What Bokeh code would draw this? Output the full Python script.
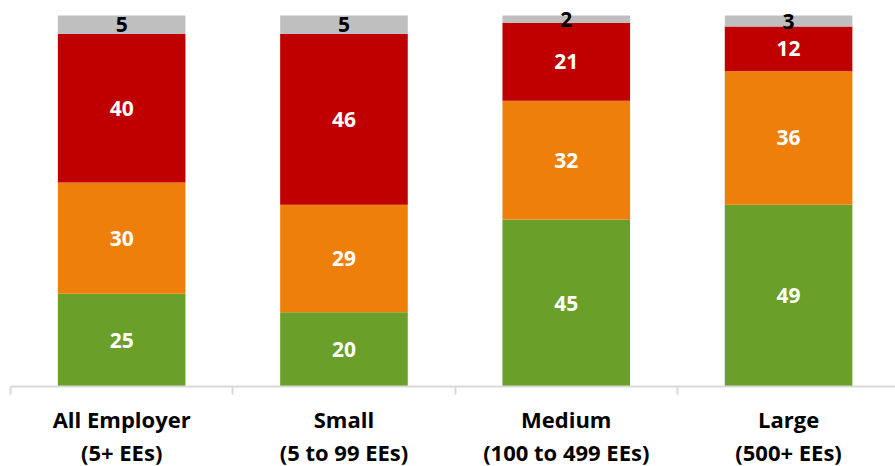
from bokeh.plotting import figure
from bokeh.models import ColumnDataSource, FixedTicker, Range1d, LabelSet, LinearAxis
from bokeh.embed import file_html
from bokeh.resources import INLINE
from bokeh.core.properties import value

cat_line1 = ["All Employer", "Small", "Medium", "Large"]
cat_line2 = ["(5+ EEs)", "(5 to 99 EEs)", "(100 to 499 EEs)", "(500+ EEs)"]
green = [25, 20, 45, 49]
orange = [30, 29, 32, 36]
red = [40, 46, 21, 12]
gray = [5, 5, 2, 3]

series = [("green", green, "#6A9F2A", "white"),
          ("orange", orange, "#EF7F0B", "white"),
          ("red", red, "#C00000", "white"),
          ("gray", gray, "#BFBFBF", "black")]

xs = [i + 0.5 for i in range(len(cat_line1))]

p = figure(frame_width=885, frame_height=382, output_backend="svg", toolbar_location=None,
           x_range=Range1d(0, 3.981), y_range=Range1d(0, 102.96),
           min_border_left=10, min_border_right=0, min_border_top=4, min_border_bottom=0)
p.outline_line_color = None
p.grid.visible = False
p.yaxis.visible = False

bottom = [0] * len(cat_line1)
for name, vals, color, tcolor in series:
    top = [b + v for b, v in zip(bottom, vals)]
    mid = [(b + t) / 2 for b, t in zip(bottom, top)]
    src = ColumnDataSource(dict(x=xs, bottom=bottom, top=top, mid=mid, lab=[str(v) for v in vals]))
    p.vbar(x="x", width=0.574, bottom="bottom", top="top", source=src, fill_color=color, line_color=None)
    p.add_layout(LabelSet(x="x", y="mid", text="lab", source=src, text_align="center",
                          text_baseline="middle", text_color=tcolor, text_font=value("Open Sans"),
                          text_font_style="bold", text_font_size="21px"))
    bottom = top

ax = p.xaxis[0]
ax.ticker = FixedTicker(ticks=xs, minor_ticks=[0, 1, 2, 3, 4])
ax.major_label_overrides = {x: c for x, c in zip(xs, cat_line1)}
ax.major_tick_out = 0
ax.major_tick_in = 0
ax.minor_tick_out = 8
ax.minor_tick_in = 0
ax.minor_tick_line_color = "#D9D9D9"
ax.minor_tick_line_width = 2
ax.axis_line_color = "#D9D9D9"
ax.axis_line_width = 2
ax.major_label_text_font = "Open Sans"
ax.major_label_text_font_style = "bold"
ax.major_label_text_font_size = "22px"
ax.major_label_text_color = "black"
ax.major_label_standoff = 9

ax2 = LinearAxis(ticker=FixedTicker(ticks=xs),
                 major_label_overrides={x: c for x, c in zip(xs, cat_line2)},
                 axis_line_color=None, major_tick_line_color=None, minor_tick_line_color=None,
                 major_tick_out=0, major_tick_in=0, minor_tick_out=0, minor_tick_in=0,
                 major_label_text_font="Open Sans", major_label_text_font_style="bold",
                 major_label_text_font_size="22px", major_label_text_color="black",
                 major_label_standoff=0)
p.add_layout(ax2, "below")

open("out.html", "w").write(file_html(p, INLINE))
